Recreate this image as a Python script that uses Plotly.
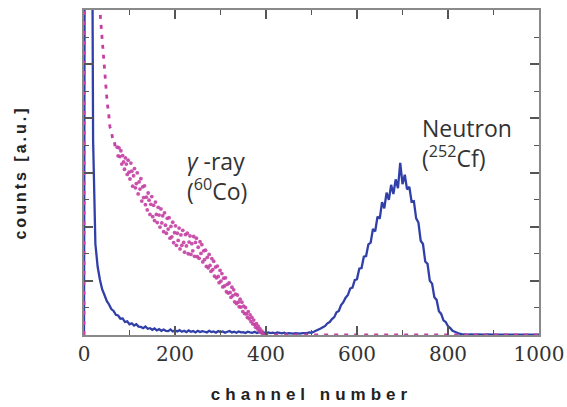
import plotly.graph_objects as go

# ---------------- data ----------------
# Neutron (252Cf) spectrum, every 5 channels
neutron_ch = list(range(0, 1001, 5))
neutron_counts = [
    0, 400, 400, 250, 60, 28, 21, 17, 14, 12.3,          # 0-45
    10.5, 9.4, 8.0, 7.4, 6.2, 6.0, 5.0, 5.1, 4.0, 4.2,    # 50-95
    3.3, 3.6, 2.9, 3.3, 2.6, 2.5, 2.1, 2.6, 1.9, 2.1,     # 100-145
    1.6, 2.0, 1.4, 1.8, 1.3, 1.7, 1.3, 1.2, 1.7, 1.1,     # 150-195
    1.4, 1.1, 1.5, 1.0, 1.3, 0.9, 1.4, 1.0, 1.2, 0.8,     # 200-245
    1.3, 0.9, 1.2, 1.0, 0.8, 1.3, 0.9, 1.1, 0.7, 1.2,     # 250-295
    0.9, 1.1, 0.7, 1.0, 1.2, 0.8, 1.0, 0.7, 1.1, 0.8,     # 300-345
    0.9, 0.6, 1.0, 0.8, 0.7, 1.0, 0.6, 0.9, 0.7, 0.8,     # 350-395
    0.5, 0.8, 0.6, 0.7, 0.5, 0.8, 0.6, 0.5, 0.7, 0.4,     # 400-445
    0.6, 0.5, 0.4, 0.6, 0.5, 0.4, 0.6, 0.5, 0.6, 0.8,     # 450-495
    0.7, 1.0, 1.3, 1.5, 2.0, 2.4, 2.8, 3.6, 4.0, 4.9,     # 500-545
    5.5, 7.0, 7.4, 9.2, 10.1, 11.5, 12.3, 14.3, 14.6, 16.9,      # 550-595
    17.2, 20.4, 20.6, 24.1, 24.3, 27.9, 28.4, 32.6, 31.9, 36.4,  # 600-645
    35.8, 40.9, 39.0, 43.8, 41.6, 46.2, 43.4, 47.9, 45.2, 53.0,  # 650-695
    46.4, 49.3, 44.8, 45.6, 41.0, 41.2, 35.9, 34.6, 29.0, 28.0,  # 700-745
    22.6, 21.9, 16.7, 15.8, 11.6, 10.8, 7.3, 6.5, 4.5, 4.0,      # 750-795
    2.7, 2.1, 1.3, 1.0, 0.6, 0.4, 0.3, 0.2, 0.2, 0.1,            # 800-845
    0.2, 0.1, 0.1, 0.2, 0.1, 0.1, 0.1, 0.2, 0.1, 0.1,            # 850-895
    0.1, 0.1, 0.2, 0.1, 0.1, 0.1, 0.1, 0.1, 0.1, 0.1,            # 900-945
    0.1, 0.1, 0.1, 0.1, 0.1, 0.1, 0.1, 0.1, 0.1, 0.1, 0.1,       # 950-1000
]

# Gamma-ray (60Co) spectrum: steep head, noisy body, empty tail
gamma_head_ch = [0, 1, 25, 31, 36, 39, 42, 45, 48, 51, 54, 57, 60, 63, 66, 69, 72]
gamma_head_counts = [0, 400, 160, 120, 98.0, 92.6, 87.4, 80.6, 76.3, 71.5,
                     68.4, 64.0, 63.1, 60.2, 60.3, 57.4, 57.9]
gamma_body_ch = list(range(73, 396, 2))
gamma_body_counts = [
    57.8, 55.1, 57.6, 54.9, 56.7, 52.6, 55.2, 53.3, 51.0, 54.5,   # 73-91
    52.6, 49.4, 53.8, 50.1, 48.0, 52.9, 50.4, 45.8, 49.0, 51.2,   # 93-111
    45.3, 46.6, 49.9, 43.4, 47.1, 44.9, 48.1, 41.2, 45.6, 42.3,   # 113-131
    45.9, 40.1, 42.4, 38.5, 43.7, 41.5, 37.1, 40.2, 42.6, 36.4,   # 133-151
    39.9, 35.2, 40.9, 37.1, 34.6, 39.3, 36.9, 33.2, 38.8, 34.5,   # 153-171
    36.7, 31.8, 37.6, 33.8, 31.3, 35.9, 32.6, 36.1, 29.8, 33.4,   # 173-191
    30.2, 34.7, 28.4, 31.5, 33.6, 27.6, 31.3, 29.1, 32.9, 26.5,   # 193-211
    30.8, 27.6, 32.2, 28.5, 25.5, 30.9, 27.4, 31.3, 25.0, 28.6,   # 213-231
    30.5, 24.8, 28.1, 25.9, 30.3, 24.2, 28.5, 29.8, 24.1, 27.0,   # 233-251
    23.6, 28.7, 25.1, 27.8, 22.5, 25.9, 23.2, 26.1, 21.1, 23.9,   # 253-271
    20.7, 24.8, 21.4, 19.6, 23.5, 20.1, 22.7, 18.1, 20.9, 17.6,   # 273-291
    21.2, 18.0, 16.1, 19.9, 16.6, 18.9, 14.8, 17.5, 15.1, 17.6,   # 293-311
    13.3, 15.6, 12.9, 16.0, 13.1, 11.6, 14.7, 12.1, 13.9, 10.2,   # 313-331
    12.6, 9.7, 12.3, 10.1, 8.7, 11.0, 8.6, 10.1, 7.2, 8.9,        # 333-351
    6.6, 8.4, 6.5, 5.4, 7.2, 5.0, 6.2, 4.1, 5.4, 3.4,             # 353-371
    4.6, 3.2, 2.4, 3.5, 1.9, 2.7, 1.2, 1.9, 0.8, 1.2,             # 373-391
    0.3, 0.1,                                                     # 393-395
]
gamma_tail_ch = [396, 1000]
gamma_tail_counts = [0, 0]

x_ticks = [0, 200, 400, 600, 800, 1000]

BLUE = "#3040a8"
MAGENTA = "#c43fa2"
FRAME = "#8a8a8a"
TEXT = "#333333"
DOTS = "4px,6px"

fig = go.Figure()
fig.add_trace(go.Scatter(
    x=neutron_ch, y=neutron_counts, mode="lines",
    line=dict(color=BLUE, width=2.3), showlegend=False,
))
fig.add_trace(go.Scatter(
    x=gamma_head_ch, y=gamma_head_counts, mode="lines",
    line=dict(color=MAGENTA, width=2.8, dash=DOTS), showlegend=False,
))
fig.add_trace(go.Scatter(
    x=gamma_body_ch, y=gamma_body_counts, mode="markers",
    marker=dict(color=MAGENTA, size=3.8, opacity=0.9), showlegend=False,
))
fig.add_trace(go.Scatter(
    x=gamma_tail_ch, y=gamma_tail_counts, mode="lines",
    line=dict(color=MAGENTA, width=2.8, dash=DOTS), showlegend=False,
))

ann_font = dict(family="Open Sans, Noto Sans, sans-serif", size=23, color=TEXT)
fig.add_annotation(x=738, y=59.2, xref="x", yref="y",
                   text="Neutron<br>(<sup>252</sup>Cf)",
                   showarrow=False, xanchor="left", yanchor="middle", align="left",
                   font=ann_font)
fig.add_annotation(x=222, y=49.0, xref="x", yref="y",
                   text="<i>γ</i> -ray<br>(<sup>60</sup>Co)",
                   showarrow=False, xanchor="left", yanchor="middle", align="left",
                   font=ann_font)

axis_common = dict(
    showgrid=False, zeroline=False, showline=True, linecolor=FRAME, linewidth=1.5,
    mirror="ticks", ticks="inside", tickcolor="#555555", tickwidth=1.5, ticklen=9,
    automargin=False,
)
fig.update_xaxes(
    **axis_common, range=[0, 1000], tickvals=x_ticks,
    ticktext=[str(v) for v in x_ticks],
    tickfont=dict(family="DejaVu Serif", size=20, color=TEXT),
    minor=dict(ticks="inside", dtick=100, ticklen=5, tickcolor="#555555", tickwidth=1.2),
    title=dict(text="<b>channel number</b>", standoff=23,
               font=dict(family="Liberation Sans, Arial, sans-serif", size=17, color="#222222")),
)
fig.update_yaxes(
    **axis_common, range=[0, 100], dtick=100 / 6, showticklabels=False,
    minor=dict(ticks="inside", dtick=100 / 12, ticklen=5, tickcolor="#555555", tickwidth=1.2),
    title=dict(text="<b>counts [a.u.]</b>", standoff=52,
               font=dict(family="Liberation Sans, Arial, sans-serif", size=16, color="#222222")),
)
fig.update_layout(
    width=567, height=407, margin=dict(l=84, r=28, t=10, b=72),
    paper_bgcolor="white", plot_bgcolor="white", showlegend=False,
)

post = """
document.body.style.margin='0';
document.querySelectorAll('.xtitle').forEach(function(e){e.style.letterSpacing='5px';});
document.querySelectorAll('.ytitle').forEach(function(e){e.style.letterSpacing='3px';});
"""
fig.write_html("out.html", post_script=post, config={"displayModeBar": False})
